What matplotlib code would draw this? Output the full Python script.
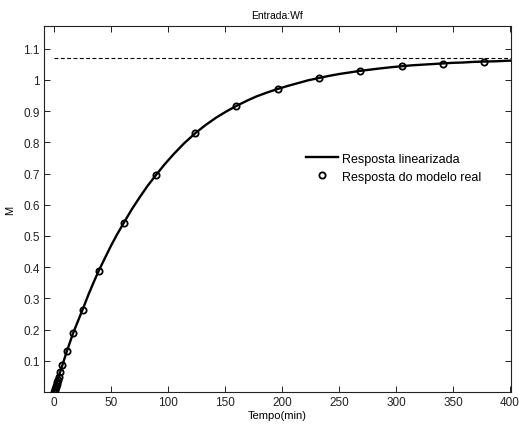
import matplotlib
matplotlib.use("Agg")
import matplotlib.pyplot as plt

plt.rcParams['font.family'] = ['Liberation Sans', 'DejaVu Sans']

# Linearized response (line)
t_lin = [0, 2, 5, 8, 11, 16.5, 21, 25, 30, 35, 39, 45, 50, 55, 61, 68, 75, 82,
         89, 97, 105, 114, 124, 133, 142, 151, 160, 170, 178, 187, 196, 205,
         214, 223, 232, 241, 250, 259, 268, 277, 286, 296, 305, 314, 323, 332,
         341, 350, 359, 368, 377, 388, 400]
m_lin = [0, 0.025, 0.062, 0.096, 0.130, 0.188, 0.229, 0.265, 0.312, 0.355,
         0.388, 0.433, 0.470, 0.504, 0.542, 0.585, 0.624, 0.661, 0.694, 0.730,
         0.763, 0.797, 0.830, 0.856, 0.879, 0.899, 0.917, 0.935, 0.948, 0.960,
         0.971, 0.981, 0.990, 0.999, 1.006, 1.013, 1.019, 1.024, 1.029, 1.033,
         1.037, 1.041, 1.044, 1.047, 1.049, 1.051, 1.053, 1.055, 1.056, 1.058,
         1.059, 1.060, 1.062]

# Real model response (markers)
t_real = [0, 0.4, 0.8, 1.2, 1.6, 2.0, 2.5, 3.0, 4.0, 5.2, 7.0, 11.0, 16.5, 25,
          39, 61, 89, 124, 160, 196, 232, 268, 305, 341, 377]
m_real = [0, 0.005, 0.010, 0.015, 0.020, 0.025, 0.031, 0.037, 0.049, 0.065,
          0.085, 0.130, 0.188, 0.263, 0.387, 0.542, 0.694, 0.830, 0.918, 0.972,
          1.006, 1.029, 1.045, 1.052, 1.059]

steady_value = 1.071
x_ticks = [0, 50, 100, 150, 200, 250, 300, 350, 400]
y_ticks = [0.1, 0.2, 0.3, 0.4, 0.5, 0.6, 0.7, 0.8, 0.9, 1.0, 1.1]
y_ticklabels = ['0.1', '0.2', '0.3', '0.4', '0.5', '0.6', '0.7', '0.8', '0.9', '1', '1.1']

fig = plt.figure(figsize=(5.19, 4.27), dpi=100)
ax = fig.add_axes([44/519, 1 - 393/427, (511-44)/519, (393-27)/427])

ax.plot(t_lin, m_lin, color='black', lw=1.7, label='Resposta linearizada', zorder=3)
ax.plot(t_real, m_real, linestyle='none', marker='o', markersize=4.5,
        markerfacecolor='none', markeredgecolor='black', markeredgewidth=1.3,
        label='Resposta do modelo real', zorder=4)
ax.plot([0, 401], [steady_value, steady_value], color='black', lw=0.8,
        dashes=(3.5, 2.2), zorder=2)

ax.set_xlim(-9, 401)
ax.set_ylim(0, 1.173)
ax.set_xticks(x_ticks)
ax.set_yticks(y_ticks)
ax.set_yticklabels(y_ticklabels)
ax.tick_params(direction='in', top=True, right=True, length=4, width=0.7,
               labelsize=8.5, pad=3, colors='#222222')
for s in ax.spines.values():
    s.set_linewidth(0.8)
    s.set_color('#222222')

ax.set_title('Entrada:Wf', fontsize=7.5, pad=6)
ax.set_xlabel('Tempo(min)', fontsize=8, labelpad=1)
ax.set_ylabel('M', fontsize=8, labelpad=6)

ax.legend(loc='center left', bbox_to_anchor=(0.561, 0.613), frameon=False,
          fontsize=9, borderpad=0, borderaxespad=0, handlelength=2.6,
          handletextpad=0.3, labelspacing=0.5)

fig.savefig('out.png', dpi=100)
